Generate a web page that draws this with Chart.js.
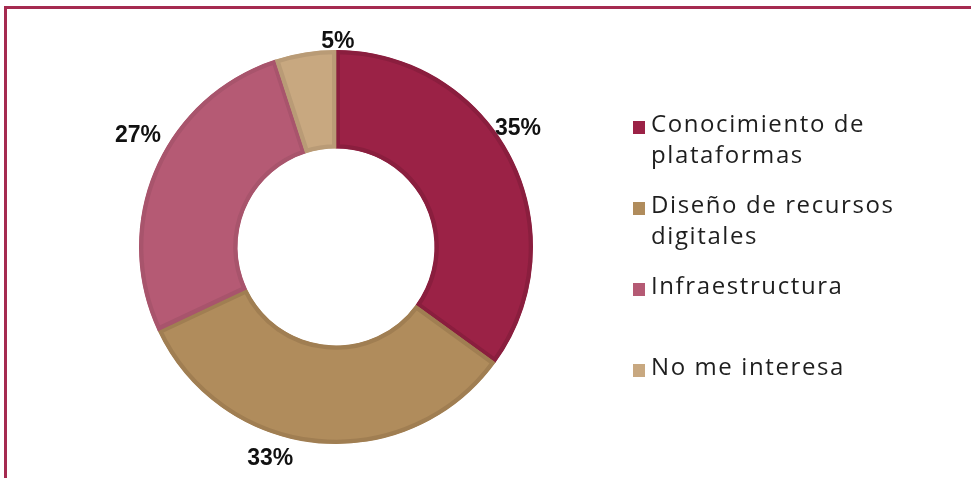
<!DOCTYPE html>
<html>
<head>
<meta charset="utf-8">
<script src="https://cdn.jsdelivr.net/npm/chart.js@4.4.1/dist/chart.umd.min.js"></script>
<style>
  html, body { margin:0; padding:0; background:#ffffff; width:971px; height:478px; overflow:hidden; }
  #frame { position:absolute; left:4px; top:6px; right:0; bottom:0; box-sizing:border-box;
           border-top:3px solid #a52a50; border-left:3px solid #a52a50; }
  #wrap { position:absolute; left:0; top:0; width:971px; height:478px; }
  #legend { position:absolute; left:633px; top:107px; font-family:"Open Sans", sans-serif;
            font-size:24px; font-weight:500; letter-spacing:1.6px; color:#1e1e1e; }
  .item { display:flex; align-items:flex-start; height:81px; }
  .sw { width:12px; height:13px; margin-top:14px; margin-right:6px; flex:none; }
  .txt { line-height:31px; width:300px; }
</style>
</head>
<body>
<div id="frame"></div>
<div id="wrap"><canvas id="c" width="971" height="478"></canvas></div>
<div id="legend"></div>
<script>
// ---- data ----
const categories = ['Conocimiento de plataformas', 'Diseño de recursos digitales', 'Infraestructura', 'No me interesa'];
const percentages = [35, 33, 27, 5];

// ---- styles ----
const fillColors   = ['#9b2246', '#b08c5c', '#b55a74', '#c8a880'];
const borderColors = ['#8a1e3e', '#a07e52', '#a8546c', '#b99b76'];

const pctLabels = {
  id: 'pctLabels',
  afterDatasetsDraw(chart, args, opts) {
    const meta = chart.getDatasetMeta(0);
    const ctx = chart.ctx;
    ctx.save();
    ctx.font = opts.font;
    ctx.fillStyle = opts.color;
    ctx.textAlign = 'center';
    ctx.textBaseline = 'middle';
    meta.data.forEach((arc, i) => {
      const p = arc.getProps(['x', 'y', 'startAngle', 'endAngle', 'outerRadius'], true);
      const n = opts.nudges[i];
      const a = (p.startAngle + p.endAngle) / 2 + n.da * Math.PI / 180;
      const r = p.outerRadius + n.dr;
      ctx.fillText(chart.data.datasets[0].data[i] + '%', p.x + r * Math.cos(a), p.y + r * Math.sin(a) + opts.yShift);
    });
    ctx.restore();
  }
};

const chart = new Chart(document.getElementById('c'), {
  type: 'doughnut',
  data: {
    labels: categories,
    datasets: [{
      data: percentages,
      backgroundColor: fillColors,
      borderColor: borderColors,
      borderWidth: 4,
      borderAlign: 'inner'
    }]
  },
  options: {
    responsive: false,
    animation: false,
    cutout: '50%',
    layout: { padding: { left: 139, right: 438, top: 50, bottom: 34 } },
    plugins: {
      legend: { display: false },
      tooltip: { enabled: false },
      pctLabels: {
        font: 'bold 23px "Liberation Sans", Arial, sans-serif',
        color: '#111111',
        yShift: 2,
        nudges: [ {da: -6.4, dr: 21}, {da: 12, dr: 23}, {da: 6.3, dr: 31}, {da: 9.5, dr: 10} ]
      }
    }
  },
  plugins: [pctLabels]
});

// ---- HTML legend built from the chart data ----
const legend = document.getElementById('legend');
chart.data.labels.forEach((lab, i) => {
  const item = document.createElement('div');
  item.className = 'item';
  const sw = document.createElement('div');
  sw.className = 'sw';
  sw.style.background = chart.data.datasets[0].backgroundColor[i];
  const t = document.createElement('div');
  t.className = 'txt';
  t.textContent = lab;
  item.appendChild(sw);
  item.appendChild(t);
  legend.appendChild(item);
});
</script>
</body>
</html>
